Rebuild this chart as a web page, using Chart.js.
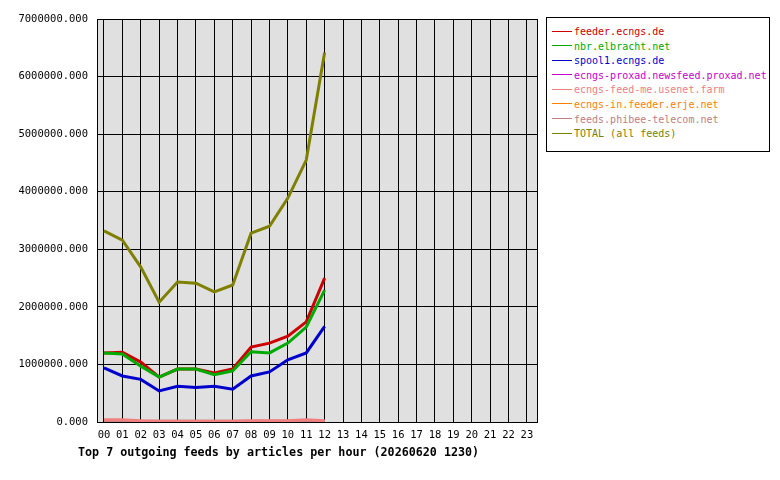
<!DOCTYPE html>
<html><head><meta charset="utf-8">
<script src="https://cdn.jsdelivr.net/npm/chart.js@4/dist/chart.umd.min.js"></script>
<style>
body{margin:0;background:#fff;font-family:"DejaVu Sans Mono",monospace;}
#wrap{position:relative;width:780px;height:480px;}
#legend{position:absolute;left:546px;top:17px;width:224px;height:135px;border:1px solid #000;box-sizing:border-box;font-size:10px;padding:7px 0 0 5px;background:#fff;}
#legend div{height:14.6px;line-height:14.6px;white-space:nowrap;}
#legend span.sw{display:inline-block;width:20px;height:1px;vertical-align:middle;margin-right:2px;position:relative;top:-1px;}
#title{position:absolute;left:78px;top:445px;font-size:11.7px;font-weight:bold;}
</style></head><body>
<div id="wrap"><canvas id="c" width="780" height="480"></canvas><div id="legend"></div>
<div id="title">Top 7 outgoing feeds by articles per hour (20260620 1230)</div></div>
<script>
const hours=["00","01","02","03","04","05","06","07","08","09","10","11","12","13","14","15","16","17","18","19","20","21","22","23"];
const seriesNames=["feeder.ecngs.de","nbr.elbracht.net","spool1.ecngs.de","ecngs-proxad.newsfeed.proxad.net","ecngs-feed-me.usenet.farm","ecngs-in.feeder.erje.net","feeds.phibee-telecom.net","TOTAL (all feeds)"];
const seriesColors=["#cc0000","#00aa00","#0000cc","#cc00cc","#f08080","#ff8000","#c08080","#808000"];
const feederEcngs=[1200000,1210000,1040000,780000,920000,920000,850000,920000,1300000,1370000,1490000,1740000,2500000];
const nbrElbracht=[1200000,1180000,970000,780000,920000,920000,820000,890000,1220000,1200000,1370000,1650000,2290000];
const spool1=[940000,800000,740000,540000,620000,600000,620000,570000,800000,870000,1080000,1200000,1660000];
const proxad=[5000,5000,5000,4000,4000,4000,4000,4000,5000,5000,5000,5000,6000];
const usenetFarm=[40000,40000,20000,15000,15000,15000,15000,15000,20000,20000,20000,40000,20000];
const erje=[3000,3000,3000,3000,3000,3000,3000,3000,3000,3000,3000,3000,3000];
const phibee=[15000,15000,15000,12000,12000,12000,12000,12000,15000,15000,15000,15000,15000];
const total=[3320000,3160000,2690000,2080000,2430000,2410000,2260000,2380000,3280000,3400000,3890000,4550000,6420000];
const yTicks=[0,1000000,2000000,3000000,4000000,5000000,6000000,7000000];
const all=[feederEcngs,nbrElbracht,spool1,proxad,usenetFarm,erje,phibee,total];
const order=[7,4,6,5,3,2,1,0];
const datasets=order.map(i=>({label:seriesNames[i],data:all[i].map((v,k)=>({x:k,y:v})),borderColor:seriesColors[i],borderWidth:3,pointRadius:0,tension:0}));
const lg=document.getElementById('legend');
seriesNames.forEach((n,i)=>{const d=document.createElement('div');d.style.color=seriesColors[i];d.innerHTML='<span class="sw" style="background:'+seriesColors[i]+'"></span>'+n;lg.appendChild(d);});
const bg={id:'bg',beforeDraw(c){const a=c.chartArea,x=c.ctx;x.save();x.fillStyle='#e0e0e0';x.fillRect(a.left,a.top,a.right-a.left,a.bottom-a.top);x.restore();},
afterDraw(c){const a=c.chartArea,x=c.ctx;x.save();x.strokeStyle='#000';x.lineWidth=1;x.strokeRect(a.left+0.5,a.top+0.5,a.right-a.left,a.bottom-a.top);x.restore();}};
new Chart(document.getElementById('c'),{type:'line',data:{datasets},plugins:[bg],
options:{responsive:false,animation:false,layout:{padding:{left:0,top:19,right:243,bottom:0}},
plugins:{legend:{display:false},tooltip:{enabled:false}},
scales:{x:{type:'linear',min:-0.38,max:23.55,afterBuildTicks(s){s.ticks=hours.map((h,i)=>({value:i}));},
afterFit(s){s.height=58;},grid:{color:'#000',drawTicks:false,lineWidth:1},border:{display:false},
ticks:{color:'#000',font:{family:'DejaVu Sans Mono',size:10.5},maxRotation:0,autoSkip:false,padding:7,callback:(v)=>hours[v]}},
y:{min:0,max:7000000,afterBuildTicks(s){s.ticks=yTicks.map(v=>({value:v}));},afterFit(s){s.width=97;},
grid:{color:'#000',drawTicks:false},border:{display:false},
ticks:{color:'#000',font:{family:'DejaVu Sans Mono',size:10.5},padding:9,callback:v=>v.toFixed(3)}}}}});
</script></body></html>
